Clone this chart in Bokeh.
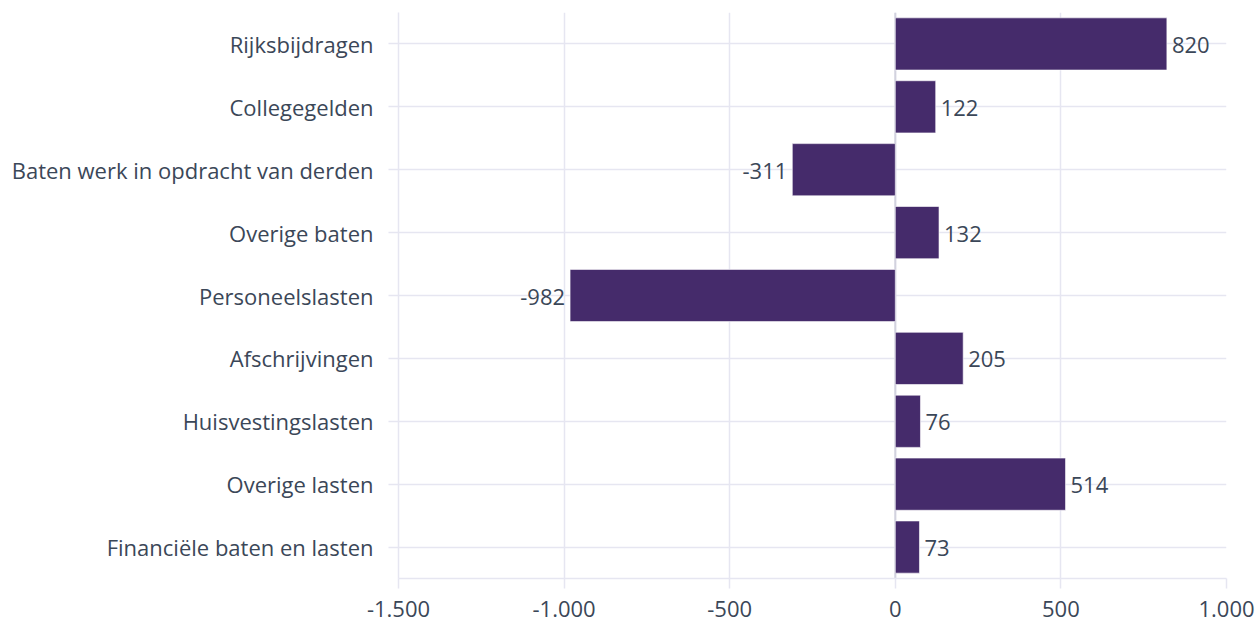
from bokeh.plotting import figure
from bokeh.models import Range1d, FactorRange, FixedTicker, ColumnDataSource, Span
from bokeh.core.properties import value
from bokeh.embed import file_html
from bokeh.resources import INLINE

categories = ["Rijksbijdragen", "Collegegelden", "Baten werk in opdracht van derden",
              "Overige baten", "Personeelslasten", "Afschrijvingen",
              "Huisvestingslasten", "Overige lasten", "Financiële baten en lasten"]
values = [820, 122, -311, 132, -982, 205, 76, 514, 73]
x_ticks = [-1500, -1000, -500, 0, 500, 1000]
x_tick_labels = ["-1.500", "-1.000", "-500", "0", "500", "1.000"]

BAR = "#452b6b"
GRID = "#e6e6f1"
TEXT = "#3b4758"
FONT = "Open Sans"
FS = "22px"

p = figure(width=1256, height=626, output_backend="svg", toolbar_location=None,
           x_range=Range1d(-1500, 1000),
           y_range=FactorRange(factors=list(reversed(categories)), range_padding=0),
           min_border_left=398, min_border_right=30, min_border_top=12, min_border_bottom=48)
p.outline_line_color = None
p.background_fill_color = "white"
p.border_fill_color = "white"

p.xgrid.grid_line_color = GRID
p.xgrid.grid_line_width = 1.5
p.ygrid.grid_line_color = GRID
p.ygrid.grid_line_width = 1.5

zero = Span(location=0, dimension="height", line_color="#d2d2de", line_width=2, level="underlay")
p.add_layout(zero)

src = ColumnDataSource(dict(cat=categories, val=values))
p.hbar(y="cat", left=0, right="val", height=0.83, source=src,
       fill_color=BAR, line_color="white", line_width=0.6)

pos = [(c, v) for c, v in zip(categories, values) if v >= 0]
neg = [(c, v) for c, v in zip(categories, values) if v < 0]
src_pos = ColumnDataSource(dict(cat=[c for c, _ in pos], val=[v for _, v in pos],
                                lab=[str(v) for _, v in pos]))
src_neg = ColumnDataSource(dict(cat=[c for c, _ in neg], val=[v for _, v in neg],
                                lab=[str(v) for _, v in neg]))
p.text(x="val", y="cat", text="lab", source=src_pos, x_offset=5, y_offset=1, text_align="left",
       text_baseline="middle", text_font=value(FONT), text_font_size=FS, text_color=TEXT)
p.text(x="val", y="cat", text="lab", source=src_neg, x_offset=-5, y_offset=1, text_align="right",
       text_baseline="middle", text_font=value(FONT), text_font_size=FS, text_color=TEXT)

xa = p.xaxis[0]
xa.ticker = FixedTicker(ticks=x_ticks)
xa.major_label_overrides = {t: l for t, l in zip(x_ticks, x_tick_labels)}
xa.axis_line_color = GRID
xa.axis_line_width = 1.5
xa.major_tick_line_color = GRID
xa.major_tick_line_width = 1.5
xa.major_tick_out = 10
xa.major_tick_in = 0
xa.minor_tick_line_color = None
xa.major_label_text_font = FONT
xa.major_label_text_font_size = FS
xa.major_label_text_color = TEXT
xa.major_label_standoff = 12

ya = p.yaxis[0]
ya.axis_line_color = GRID
ya.axis_line_width = 1.5
ya.major_tick_line_color = GRID
ya.major_tick_line_width = 1.5
ya.major_tick_out = 10
ya.major_tick_in = 0
ya.major_label_text_font = FONT
ya.major_label_text_font_size = FS
ya.major_label_text_color = TEXT
ya.major_label_standoff = 15

open("out.html", "w").write(file_html(p, INLINE))
